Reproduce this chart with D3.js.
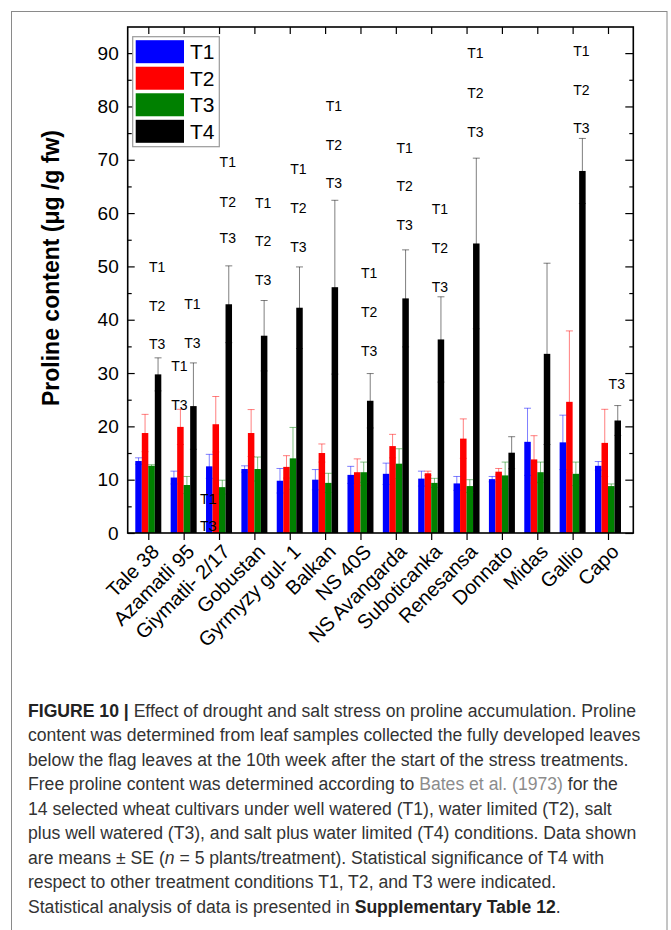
<!DOCTYPE html>
<html>
<head>
<meta charset="utf-8">
<script src="https://cdn.jsdelivr.net/npm/d3@7"></script>
<style>
  html, body { margin: 0; padding: 0; background: #fff; }
  svg { display: block; }
  text { font-family: "Liberation Sans", Arial, Helvetica, sans-serif; }
</style>
</head>
<body>
<svg id="chart" width="671" height="930"></svg>
<script>
// ---------------- data ----------------
const categories = ["Tale 38","Azamatli 95","Giymatli- 2/17","Gobustan","Gyrmyzy gul- 1","Balkan","NS 40S","NS Avangarda","Suboticanka","Renesansa","Donnato","Midas","Gallio","Capo"];
const seriesNames = ["T1","T2","T3","T4"];
const seriesColors = ["#0000ff","#ff0000","#008000","#000000"];
const T1 = [13.5,10.4,12.5,12.0,9.8,10.0,10.9,11.1,10.2,9.3,10.1,17.1,17.0,12.6];
const T1err = [0.6,1.2,2.25,0.6,2.3,1.9,1.6,2.0,1.4,1.3,0.5,6.3,5.1,0.8];
const T2 = [18.75,19.9,20.4,18.75,12.4,15.0,11.4,16.3,11.2,17.7,11.5,13.8,24.6,16.9];
const T2err = [3.5,3.3,5.2,4.4,2.1,1.7,2.5,2.2,0.4,3.7,0.6,4.45,13.3,6.3];
const T3 = [12.6,9.0,8.6,12.0,14.0,9.4,11.4,13.0,9.4,8.8,10.8,11.4,11.1,8.8];
const T3err = [0.2,1.6,1.3,2.25,5.8,1.8,1.9,2.8,0.85,1.2,2.5,1.9,2.2,0.4];
const T4 = [29.75,23.8,42.9,37.0,42.25,46.1,24.8,44.0,36.3,54.3,15.06,33.6,67.9,21.1];
const T4err = [3.1,8.1,7.2,6.6,7.65,16.3,5.1,9.1,8.0,16.0,3.0,17.0,6.1,2.8];
const yTicks = [0,10,20,30,40,50,60,70,80,90];
const yMinorTicks = [5,15,25,35,45,55,65,75,85];
// significance labels: [category, bar it sits over, value (y), label]
const annotations = [
  ["Tale 38","T4",49.9,"T1"],["Tale 38","T4",42.6,"T2"],["Tale 38","T4",35.4,"T3"],
  ["Azamatli 95","T4",42.9,"T1"],["Azamatli 95","T4",35.6,"T3"],
  ["Azamatli 95","T2",31.3,"T1"],["Azamatli 95","T2",24.1,"T3"],
  ["Giymatli- 2/17","T4",69.6,"T1"],["Giymatli- 2/17","T4",62.1,"T2"],["Giymatli- 2/17","T4",55.3,"T3"],
  ["Giymatli- 2/17","T1",6.3,"T1"],["Giymatli- 2/17","T1",1.3,"T3"],
  ["Gobustan","T4",61.9,"T1"],["Gobustan","T4",54.75,"T2"],["Gobustan","T4",47.4,"T3"],
  ["Gyrmyzy gul- 1","T4",68.2,"T1"],["Gyrmyzy gul- 1","T4",60.9,"T2"],["Gyrmyzy gul- 1","T4",53.7,"T3"],
  ["Balkan","T4",80.1,"T1"],["Balkan","T4",72.75,"T2"],["Balkan","T4",65.6,"T3"],
  ["NS 40S","T4",48.7,"T1"],["NS 40S","T4",41.4,"T2"],["NS 40S","T4",34.2,"T3"],
  ["NS Avangarda","T4",72.25,"T1"],["NS Avangarda","T4",65.1,"T2"],["NS Avangarda","T4",57.75,"T3"],
  ["Suboticanka","T4",60.7,"T1"],["Suboticanka","T4",53.5,"T2"],["Suboticanka","T4",46.2,"T3"],
  ["Renesansa","T4",89.95,"T1"],["Renesansa","T4",82.6,"T2"],["Renesansa","T4",75.25,"T3"],
  ["Gallio","T4",90.4,"T1"],["Gallio","T4",83.1,"T2"],["Gallio","T4",75.9,"T3"],
  ["Capo","T4",27.9,"T3"]
];
const yTitle = "Proline content (\u03bcg /g fw)";
const captionLines = [
  [["b","FIGURE 10 |"],["n"," Effect of drought and salt stress on proline accumulation. Proline"]],
  [["n","content was determined from leaf samples collected the fully developed leaves"]],
  [["n","below the flag leaves at the 10th week after the start of the stress treatments."]],
  [["n","Free proline content was determined according to "],["g","Bates et al. (1973)"],["n"," for the"]],
  [["n","14 selected wheat cultivars under well watered (T1), water limited (T2), salt"]],
  [["n","plus well watered (T3), and salt plus water limited (T4) conditions. Data shown"]],
  [["n","are means \u00b1 SE ("],["i","n"],["n"," = 5 plants/treatment). Statistical significance of T4 with"]],
  [["n","respect to other treatment conditions T1, T2, and T3 were indicated."]],
  [["n","Statistical analysis of data is presented in "],["b","Supplementary Table 12"],["n","."]]
];

// ---------------- layout ----------------
const values = [T1,T2,T3,T4];
const errors = [T1err,T2err,T3err,T4err];
const plot = {left: 127.7, right: 633.3, top: 27, bottom: 533};

const svg = d3.select("#chart");

// outer figure frame
svg.append("rect").attr("x",11.5).attr("y",11.5).attr("width",655.5).attr("height",940)
  .attr("fill","none").attr("stroke","#8a8a8a").attr("stroke-width",1);

const x = d3.scalePoint().domain(categories).range([148.3, 608]);
const xs = d3.scaleBand().domain(seriesNames).range([-13, 13]).padding(0);
const y = d3.scaleLinear().domain([0, 94.9]).range([plot.bottom, plot.top]);

// bars
const g = svg.append("g");
seriesNames.forEach((s, si) => {
  const data = categories.map((c, i) => ({c, v: values[si][i], e: errors[si][i]}));
  g.append("g").selectAll("rect").data(data).join("rect")
    .attr("x", d => x(d.c) + xs(s))
    .attr("y", d => y(d.v))
    .attr("width", xs.bandwidth())
    .attr("height", d => y(0) - y(d.v))
    .attr("fill", seriesColors[si]);
});
// error bars
seriesNames.forEach((s, si) => {
  const data = categories.map((c, i) => ({c, v: values[si][i], e: errors[si][i]}));
  const eg = g.append("g").attr("stroke", seriesColors[si]).attr("stroke-opacity", 0.5).attr("stroke-width", 1);
  const cx = d => x(d.c) + xs(s) + xs.bandwidth()/2;
  eg.selectAll("line.stem").data(data).join("line").attr("class","stem")
    .attr("x1", cx).attr("x2", cx)
    .attr("y1", d => y(d.v - d.e)).attr("y2", d => y(d.v + d.e));
  eg.selectAll("line.capT").data(data).join("line").attr("class","capT")
    .attr("x1", d => cx(d) - 3.5).attr("x2", d => cx(d) + 3.5)
    .attr("y1", d => y(d.v + d.e)).attr("y2", d => y(d.v + d.e));
  eg.selectAll("line.capB").data(data).join("line").attr("class","capB")
    .attr("x1", d => cx(d) - 3.5).attr("x2", d => cx(d) + 3.5)
    .attr("y1", d => y(d.v - d.e)).attr("y2", d => y(d.v - d.e));
});

// axes
const axisG = svg.append("g");
// bottom
axisG.append("g").attr("transform", `translate(0,${plot.bottom})`)
  .call(d3.axisBottom(x).tickSize(7).tickSizeOuter(0).tickFormat(""))
  .call(a => a.select(".domain").remove())
  .call(a => a.selectAll("line").attr("stroke","#000").attr("stroke-width",1.2));
// top
axisG.append("g").attr("transform", `translate(0,${plot.top})`)
  .call(d3.axisTop(x).tickSize(-7).tickSizeOuter(0).tickFormat(""))
  .call(a => a.select(".domain").remove())
  .call(a => a.selectAll("line").attr("stroke","#000").attr("stroke-width",1.2));
// left major
axisG.append("g").attr("transform", `translate(${plot.left},0)`)
  .call(d3.axisLeft(y).tickValues(yTicks).tickSize(-7).tickPadding(9).tickSizeOuter(0))
  .call(a => a.select(".domain").remove())
  .call(a => a.selectAll("line").attr("stroke","#000").attr("stroke-width",1.2))
  .call(a => a.selectAll("text").attr("font-size", 19).attr("fill","#000")
      .attr("font-family","'Liberation Sans', Arial, sans-serif"));
axisG.append("g").attr("transform", `translate(${plot.left},0)`)
  .call(d3.axisLeft(y).tickValues(yMinorTicks).tickSize(-4).tickFormat("").tickSizeOuter(0))
  .call(a => a.select(".domain").remove())
  .call(a => a.selectAll("line").attr("stroke","#000").attr("stroke-width",1.2));
// right
axisG.append("g").attr("transform", `translate(${plot.right},0)`)
  .call(d3.axisRight(y).tickValues(yTicks).tickSize(-8).tickFormat("").tickSizeOuter(0))
  .call(a => a.select(".domain").remove())
  .call(a => a.selectAll("line").attr("stroke","#000").attr("stroke-width",1.2));
axisG.append("g").attr("transform", `translate(${plot.right},0)`)
  .call(d3.axisRight(y).tickValues(yMinorTicks).tickSize(-4).tickFormat("").tickSizeOuter(0))
  .call(a => a.select(".domain").remove())
  .call(a => a.selectAll("line").attr("stroke","#000").attr("stroke-width",1.2));
// frame
axisG.append("rect").attr("x", plot.left).attr("y", plot.top)
  .attr("width", plot.right - plot.left).attr("height", plot.bottom - plot.top)
  .attr("fill","none").attr("stroke","#000").attr("stroke-width",1.6);

// x labels rotated
svg.append("g").selectAll("text").data(categories).join("text")
  .attr("transform", d => `translate(${x(d) + 12},${plot.bottom + 20}) rotate(-45)`)
  .attr("text-anchor","end")
  .attr("font-size", 20)
  .attr("fill","#000")
  .text(d => d);

// y title
svg.append("text")
  .attr("transform", `translate(59,268) rotate(-90)`)
  .attr("text-anchor","middle")
  .attr("font-size", 23).attr("font-weight","bold").attr("fill","#000")
  .text(yTitle);

// annotations
svg.append("g").selectAll("text").data(annotations).join("text")
  .attr("x", d => x(d[0]) + xs(d[1]) + xs.bandwidth()/2 - 1)
  .attr("y", d => y(d[2]) + 5)
  .attr("text-anchor","middle")
  .attr("font-size", 14).attr("fill","#000")
  .text(d => d[3]);

// legend
const leg = svg.append("g");
leg.append("rect").attr("x",132.7).attr("y",36.7).attr("width",86.6).attr("height",110)
  .attr("fill","#fff").attr("stroke","#9a9a9a").attr("stroke-width",1.2);
const legY = d3.scalePoint().domain(seriesNames).range([51.7, 131.3]);
seriesNames.forEach((s, i) => {
  leg.append("rect").attr("x",135.7).attr("y",legY(s) - 11.5).attr("width",48.3).attr("height",23)
    .attr("fill", seriesColors[i]);
  leg.append("text").attr("x",190).attr("y",legY(s) + 7.5)
    .attr("font-size",21).attr("fill","#000").text(s);
});

// caption
const cap = svg.append("g");
const capY = d3.scaleLinear().domain([0, 1]).range([716.5, 741]);
captionLines.forEach((line, li) => {
  const t = cap.append("text").attr("x", 28).attr("y", capY(li))
    .attr("font-size", 17.6).attr("fill", "#333").style("white-space","pre");
  line.forEach(([style, str]) => {
    const ts = t.append("tspan").text(str);
    if (style === "b") ts.attr("font-weight","bold").attr("fill","#222");
    if (style === "g") ts.attr("fill","#8c8c8c");
    if (style === "i") ts.attr("font-style","italic");
  });
});
</script>
</body>
</html>
